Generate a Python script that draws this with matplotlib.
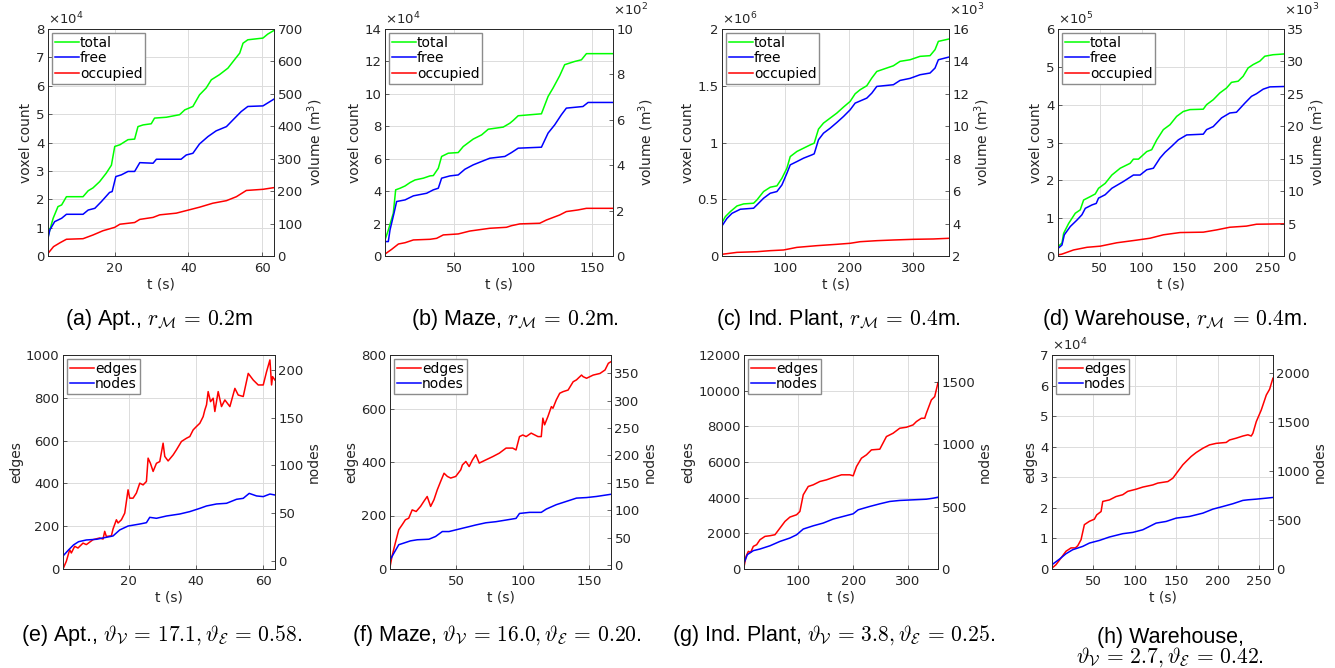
import matplotlib.pyplot as plt
import numpy as np
from matplotlib.ticker import FuncFormatter

plt.rcParams['font.family'] = 'DejaVu Sans'

# ---------------- data ----------------
# (a) Apt. voxel count, x1e4
ta_tot = [1.9, 2.4, 3.3, 4.6, 5.6, 6.9, 11.4, 12.8, 14.1, 15.9, 17.7, 19.1, 20, 21.4, 23.6, 25.4, 26.3, 27.7,
          29.9, 30.8, 34, 37.6, 39, 41.2, 43, 44.8, 46.2, 48.4, 50.7, 52.5, 53.9, 54.8, 56.1, 60.2, 61.5, 63.2]
a_total = [0.68, 0.92, 1.33, 1.74, 1.8, 2.09, 2.09, 2.3, 2.4, 2.62, 2.92, 3.2, 3.86, 3.92, 4.1, 4.12, 4.56, 4.62,
           4.66, 4.86, 4.89, 4.98, 5.15, 5.27, 5.68, 5.92, 6.21, 6.39, 6.62, 6.92, 7.15, 7.5, 7.62, 7.68, 7.82, 7.95]
ta_free = [1.9, 2.4, 3.7, 5.6, 6.9, 11.4, 12.8, 14.6, 16.4, 18.6, 19.3, 20.3, 21.8, 23.6, 25.4, 26.8, 30.4, 31.3,
           38, 39.4, 41.2, 43, 45.3, 47.5, 50.3, 52.1, 54.3, 56.1, 60.2, 63.2]
a_free = [0.62, 0.92, 1.21, 1.33, 1.47, 1.47, 1.62, 1.68, 1.92, 2.24, 2.27, 2.8, 2.86, 2.98, 2.98, 3.29, 3.27, 3.41,
          3.41, 3.56, 3.62, 3.95, 4.21, 4.41, 4.56, 4.8, 5.09, 5.27, 5.29, 5.53]
ta_occ = [1.9, 3.4, 5.2, 6.9, 11.4, 14.1, 16.8, 20, 21.4, 25.4, 26.8, 30.4, 32.2, 36.7, 39.4, 43, 46.6, 50.3,
          53, 55.7, 60.2, 63.2]
a_occ = [0.09, 0.33, 0.47, 0.59, 0.61, 0.74, 0.89, 1.01, 1.12, 1.18, 1.29, 1.36, 1.45, 1.51, 1.6, 1.72, 1.86, 1.95,
         2.09, 2.31, 2.35, 2.41]

# (b) Maze voxel count, x1e4
tb_tot = [0.2, 2.6, 6.2, 7.9, 11.1, 14.7, 18.3, 21.9, 27.9, 32.7, 35.1, 38.7, 41.1, 45.9, 53.1, 56.7, 63.9, 70,
          74.8, 85.6, 90.4, 92.8, 96.4, 104.8, 113.2, 118, 121.6, 126.4, 130, 137.3, 142.1, 145.7, 164.9]
b_total = [0.99, 1.6, 2.64, 4.08, 4.18, 4.32, 4.53, 4.69, 4.8, 4.94, 4.96, 5.41, 6.14, 6.34, 6.38, 6.75, 7.21, 7.47,
           7.82, 7.95, 8.19, 8.36, 8.65, 8.71, 8.77, 9.84, 10.36, 11.12, 11.8, 12.0, 12.1, 12.48, 12.48]
tb_free = [0.2, 2.6, 3.8, 6.7, 8.6, 14.7, 20.7, 30.3, 35.1, 38.7, 41.1, 47.1, 53.1, 57.9, 63.9, 70, 75.9, 86.8,
           91.6, 96.4, 113.2, 118, 122.8, 127.6, 131.2, 138.4, 143.2, 146.9, 164.9]
b_free = [0.89, 0.89, 1.6, 2.64, 3.36, 3.46, 3.71, 3.87, 4.08, 4.18, 4.8, 4.94, 5.0, 5.35, 5.62, 5.83, 6.03, 6.14,
          6.38, 6.65, 6.71, 7.58, 8.09, 8.71, 9.12, 9.18, 9.22, 9.47, 9.47]
tb_occ = [0.2, 5.0, 9.9, 14.7, 20.7, 32.7, 37.5, 42.3, 53.1, 61.5, 75.9, 87.9, 91.6, 97.6, 112, 116.8, 126.4,
          131.2, 139.6, 145.7, 164.9]
b_occ = [0.12, 0.41, 0.74, 0.82, 0.99, 1.03, 1.09, 1.3, 1.36, 1.54, 1.71, 1.77, 1.87, 1.98, 2.02, 2.22, 2.53,
         2.74, 2.84, 2.94, 2.94]

# (c) Ind. Plant voxel count, x1e6
tc_tot = [1.3, 6.5, 14.3, 24.7, 35.1, 50.6, 55.8, 66.2, 76.6, 87, 94.8, 102.6, 107.8, 118.2, 128.6, 139, 145.2,
          151.9, 159.7, 170.1, 180.5, 190.9, 201.3, 209.1, 216.9, 227.3, 235.1, 242.9, 258.4, 268.8, 279.2, 294.8,
          310.4, 326, 333.8, 339, 355.6]
c_total = [0.294, 0.347, 0.391, 0.441, 0.459, 0.465, 0.494, 0.568, 0.606, 0.618, 0.685, 0.774, 0.876, 0.921, 0.95,
           0.979, 0.994, 1.118, 1.171, 1.215, 1.259, 1.312, 1.362, 1.429, 1.465, 1.5, 1.568, 1.626, 1.656, 1.676,
           1.715, 1.729, 1.759, 1.765, 1.818, 1.891, 1.912]
tc_free = [1.3, 9.1, 16.9, 29.9, 50.6, 55.8, 66.2, 76.6, 87, 94.8, 102.6, 107.8, 118.2, 128.6, 141.6, 145.2, 151.9,
           159.7, 170.1, 180.5, 190.9, 201.3, 209.1, 227.3, 235.1, 242.9, 268.8, 279.2, 294.8, 310.4, 326, 333.8,
           339, 355.6]
c_free = [0.265, 0.332, 0.376, 0.412, 0.421, 0.45, 0.509, 0.553, 0.568, 0.626, 0.729, 0.803, 0.832, 0.862, 0.891,
          0.9, 1.024, 1.082, 1.126, 1.176, 1.229, 1.288, 1.347, 1.391, 1.435, 1.494, 1.509, 1.547, 1.565, 1.597,
          1.612, 1.656, 1.729, 1.753]
tc_occ = [1.3, 24.7, 55.8, 76.6, 97.4, 118.2, 149.3, 180.5, 201.3, 216.9, 242.9, 268.8, 300, 331.2, 355.6]
c_occ = [0.015, 0.032, 0.038, 0.047, 0.053, 0.076, 0.091, 0.103, 0.112, 0.126, 0.135, 0.141, 0.147, 0.15, 0.156]

# (d) Warehouse voxel count, x1e5
td_tot = [0.7, 5.4, 7.4, 13.3, 21.2, 27.1, 31.1, 39, 44.9, 48.8, 56.7, 64.6, 74.5, 86.3, 90.2, 96.2, 106, 111.9,
          117.9, 125.7, 133.6, 141.5, 149.4, 157.3, 173.1, 177, 184.9, 192.8, 200.7, 206.6, 214.5, 220.4, 226.3,
          232.3, 240.2, 246.1, 255.9, 268.9]
d_total = [0.25, 0.34, 0.6, 0.86, 1.13, 1.22, 1.48, 1.57, 1.64, 1.79, 1.92, 2.14, 2.32, 2.45, 2.56, 2.56, 2.76,
           2.81, 3.07, 3.34, 3.47, 3.69, 3.82, 3.87, 3.88, 4.0, 4.13, 4.31, 4.44, 4.59, 4.62, 4.75, 4.97, 5.06, 5.15,
           5.28, 5.32, 5.34]
td_free = [0.7, 5.4, 8.2, 15.3, 23.2, 29.1, 33.1, 41, 46.1, 48.8, 56.7, 64.6, 78.4, 90.2, 98.1, 106, 113.9, 121.8,
           127.7, 135.6, 143.5, 153.4, 173.1, 177, 184.9, 194.8, 204.6, 212.5, 222.4, 230.3, 236.3, 244.2, 252.1,
           268.9]
d_free = [0.2, 0.29, 0.56, 0.78, 0.95, 1.09, 1.26, 1.35, 1.39, 1.53, 1.62, 1.79, 1.97, 2.14, 2.14, 2.28, 2.32,
          2.59, 2.74, 2.9, 3.07, 3.2, 3.22, 3.34, 3.42, 3.65, 3.78, 3.8, 4.04, 4.22, 4.29, 4.41, 4.47, 4.48]
td_occ = [0.7, 5.4, 19.2, 35.1, 50.9, 70.6, 94.2, 110, 125.7, 145.5, 173.1, 188.9, 204.6, 224.3, 236.3, 268.9]
d_occ = [0.03, 0.05, 0.16, 0.23, 0.26, 0.35, 0.42, 0.47, 0.56, 0.62, 0.63, 0.69, 0.76, 0.79, 0.84, 0.85]

# (e) Apt. graph size
te_edge = [0.45, 1.44, 2.43, 2.93, 3.92, 4.91, 6.4, 7.39, 9.38, 11.36, 12.36, 12.85, 13.35, 14.84, 15.33, 16.33,
           16.82, 17.82, 18.81, 19.8, 20.3, 21.29, 22.28, 23.28, 24.27, 25.26, 25.76, 26.45, 27.25, 28.24, 29.23,
           30.22, 30.72, 31.71, 33.2, 34.19, 35.68, 37.17, 38.16, 39.16, 40.15, 41.14, 42.13, 42.63, 43.13, 43.62,
           44.32, 45.11, 45.61, 46.6, 47.59, 48.59, 50.08, 51.57, 52.56, 54.05, 55.54, 57.03, 58.51, 60, 60.99,
           61.99, 62.48, 62.78, 63.48]
e_edges = [0, 36, 90, 75, 106, 98, 121, 114, 137, 145, 140, 176, 152, 155, 187, 230, 215, 230, 261, 370, 331, 331,
           355, 401, 393, 409, 518, 494, 456, 494, 502, 588, 526, 505, 533, 557, 596, 611, 619, 650, 666, 681, 712,
           743, 767, 829, 782, 798, 736, 829, 759, 790, 759, 844, 813, 806, 914, 883, 860, 860, 922, 977, 860, 899,
           883]
te_node = [0.45, 2.08, 3.58, 5.09, 7.39, 10.37, 13.35, 15.33, 17.32, 19.8, 23.28, 25.26, 26.25, 28.24, 31.22,
           35.19, 38.16, 41.14, 43.13, 46.11, 49.08, 52.06, 54.05, 55.83, 58.02, 60, 61.99, 63.48]
e_nodes = [5.2, 11.5, 16.8, 20.2, 22, 22.7, 24.8, 26.2, 32.5, 36.6, 38.7, 40.1, 45.7, 44.7, 47.1, 49.2, 51.7, 55.1,
           57.6, 59.7, 60.4, 64.6, 65.6, 70.8, 68.1, 67.4, 70.1, 69.1]

# (f) Maze graph size
tf_edge = [0, 1.5, 4, 6.6, 9.1, 11.6, 14.1, 16.7, 19.7, 23, 25.5, 28, 30.6, 33.1, 35.6, 38.1, 40.7, 43.2, 45.7,
           49.5, 53.3, 54.5, 57.1, 59.6, 62.1, 64.6, 67.2, 72.2, 77.3, 82.3, 87.4, 92.4, 94.9, 97.5, 100, 102.5,
           106.3, 111.4, 113.9, 115.1, 116.4, 118.9, 121.5, 122.7, 125.2, 127.8, 130.3, 134.1, 137.9, 140.4, 144.2,
           145.4, 148, 153, 158.1, 161.9, 164.4, 166.4]
f_edges = [7, 47, 97, 147, 165, 184, 190, 221, 215, 234, 253, 271, 234, 259, 296, 327, 358, 346, 340, 346, 371,
           389, 402, 383, 408, 427, 396, 408, 420, 433, 452, 452, 445, 495, 501, 495, 508, 495, 495, 564, 539, 570,
           607, 601, 632, 657, 663, 669, 700, 707, 725, 719, 713, 725, 731, 744, 769, 775]
tf_node = [0, 2.8, 6.6, 10.4, 15.4, 20.5, 29.3, 34.3, 39.4, 44.4, 54.5, 59.6, 64.6, 72.2, 79.8, 87.4, 94.9, 97.5,
           105.1, 113.9, 117.7, 125.2, 132.8, 140.4, 148, 155.5, 166.4]
f_nodes = [9, 21, 37, 40, 44, 46, 47, 52, 61, 61, 67, 70, 73, 77, 79, 82, 85, 94, 96, 96, 102, 110, 116, 122, 123,
           125, 129]

# (g) Ind. Plant graph size
tg_edge = [1.2, 4.9, 9.1, 13.3, 18.2, 24.2, 30.3, 39.4, 48.5, 57.6, 66.7, 75.8, 84.8, 97, 103, 109.1, 118.2,
           127.3, 139.4, 151.5, 163.6, 178.8, 193.9, 200, 206.1, 215.1, 224.2, 233.3, 248.5, 260.6, 272.7, 284.8,
           297, 309.1, 315.1, 324.2, 330.3, 333.3, 342.4, 348.5, 354.5]
g_edges = [112, 709, 989, 933, 1269, 1362, 1642, 1829, 1866, 1922, 2295, 2668, 2911, 3042, 3228, 4161, 4628, 4721,
           4908, 5001, 5132, 5281, 5281, 5225, 5747, 6214, 6401, 6680, 6718, 7427, 7613, 7893, 7949, 8080, 8266,
           8453, 8453, 8733, 9479, 9666, 10450]
tg_node = [1.2, 7.3, 18.2, 30.3, 48.5, 66.7, 84.8, 97, 109.1, 127.3, 145.5, 163.6, 181.8, 200, 209.1, 230.3, 248.5,
           266.7, 284.8, 309.1, 333.3, 345.5, 354.5]
g_nodes = [48, 115, 147, 160, 186, 221, 248, 274, 320, 346, 368, 400, 421, 442, 474, 501, 522, 541, 549, 554, 559,
           567, 575]

# (h) Warehouse graph size, edges x1e4
th_edge = [0, 4.8, 10.9, 16.9, 23, 28.2, 31.1, 35.1, 39.1, 45.2, 51.2, 54, 59.3, 61.3, 69.4, 77.4, 85.5, 91.5,
           101.6, 109.7, 121.8, 127.8, 139.9, 146, 152, 158.1, 162.1, 168.1, 174.2, 182.3, 190.3, 198.4, 210.5,
           214.5, 222.6, 230.6, 236.7, 240.7, 242.7, 246.8, 252.8, 258.9, 262.9, 266.9]
h_edges = [0.03, 0.14, 0.36, 0.58, 0.69, 0.69, 0.76, 0.96, 1.45, 1.56, 1.63, 1.77, 1.88, 2.21, 2.26, 2.37, 2.43,
           2.54, 2.61, 2.68, 2.75, 2.81, 2.86, 2.97, 3.19, 3.41, 3.52, 3.68, 3.81, 3.95, 4.06, 4.11, 4.14, 4.22, 4.28,
           4.35, 4.39, 4.35, 4.44, 4.82, 5.2, 5.69, 5.88, 6.24]
th_node = [0, 9.2, 16.9, 25, 37.1, 45.2, 57.3, 69.4, 85.5, 97.6, 109.7, 125.8, 137.9, 150, 166.1, 182.3, 194.4,
           206.5, 218.5, 230.6, 236.7, 246.8, 258.9, 266.9]
h_nodes = [44, 102, 156, 197, 231, 265, 292, 327, 361, 374, 401, 469, 486, 520, 537, 571, 612, 639, 667, 701, 707,
           714, 724, 731]

captions_top = [r'(a) Apt., $r_{\mathcal{M}}\,=\,0.2$m', r'(b) Maze, $r_{\mathcal{M}}\,=\,0.2$m.',
                r'(c) Ind. Plant, $r_{\mathcal{M}}\,=\,0.4$m.', r'(d) Warehouse, $r_{\mathcal{M}}\,=\,0.4$m.']
captions_bot = [r'(e) Apt., $\vartheta_{\mathcal{V}}\,=\,17.1, \vartheta_{\mathcal{E}}\,=\,0.58$.',
                r'(f) Maze, $\vartheta_{\mathcal{V}}\,=\,16.0, \vartheta_{\mathcal{E}}\,=\,0.20$.',
                r'(g) Ind. Plant, $\vartheta_{\mathcal{V}}\,=\,3.8, \vartheta_{\mathcal{E}}\,=\,0.25$.']
caption_h = ['(h) Warehouse,', r'$\vartheta_{\mathcal{V}}\,=\,2.7, \vartheta_{\mathcal{E}}\,=\,0.42$.']

# ---------------- drawing ----------------
W, H = 1335, 668
DARK = '#262626'
fig = plt.figure(figsize=(W / 100, H / 100), dpi=100)


def rect(x0, x1, y0, y1):
    return [x0 / W, 1 - y1 / H, (x1 - x0) / W, (y1 - y0) / H]


def style(ax):
    ax.tick_params(direction='in', length=3, width=0.5, labelsize=9.5, colors=DARK, pad=2.5)
    ax.tick_params(axis='x', pad=4)
    for s in ax.spines.values():
        s.set_color(DARK)
        s.set_linewidth(0.6)


def sci(ax, e, right=False):
    ax.yaxis.set_major_formatter(FuncFormatter(lambda v, p: '%g' % round(v / 10 ** e, 6)))
    ax.annotate(r'$\times10^{%d}$' % e, xy=(1.0 if right else 0.0, 1.0), xycoords='axes fraction',
                xytext=(0, 8 if right else 1.5), textcoords='offset points',
                ha='left', va='bottom', fontsize=9.5, color=DARK)


def panel(r, xlim, xticks, ylim, yticks, ylim2, yticks2, lab1, lab2):
    ax = fig.add_axes(r)
    ax2 = ax.twinx()
    for a in (ax, ax2):
        style(a)
    ax.set_xlim(*xlim)
    ax.set_xticks(xticks)
    ax.set_ylim(*ylim)
    ax.set_yticks(yticks)
    ax2.set_ylim(*ylim2)
    ax2.set_yticks(yticks2)
    ax.grid(True, color='#dcdcdc', linewidth=0.7)
    ax.set_axisbelow(True)
    ax.set_xlabel('t (s)', fontsize=10, color=DARK, labelpad=2)
    ax.set_ylabel(lab1, fontsize=10, color=DARK, labelpad=2)
    ax2.set_ylabel(lab2, fontsize=10, color=DARK, labelpad=2)
    return ax, ax2


leg_kw = dict(loc='upper left', fontsize=10, handlelength=1.7, handletextpad=0.1, labelspacing=0.1,
              borderpad=0.2, borderaxespad=0.3, fancybox=False, framealpha=1, edgecolor='#8c8c8c')
LW = 1.1

# row 1: voxel counts
top = [
    (rect(48, 274, 29, 256), (1.9, 63.2), [20, 40, 60], (0, 8e4), np.arange(0, 9e4, 1e4), 4,
     (0, 700), np.arange(0, 800, 100), None,
     (ta_tot, a_total), (ta_free, a_free), (ta_occ, a_occ), 1e4),
    (rect(385, 613, 29, 256), (0.2, 164.9), [50, 100, 150], (0, 14e4), np.arange(0, 15e4, 2e4), 4,
     (0, 1000), np.arange(0, 1100, 200), 2,
     (tb_tot, b_total), (tb_free, b_free), (tb_occ, b_occ), 1e4),
    (rect(722, 949, 29, 256), (1.3, 355.6), [100, 200, 300], (0, 2e6), np.arange(0, 2.1e6, 5e5), 6,
     (2000, 16000), np.arange(2000, 17000, 2000), 3,
     (tc_tot, c_total), (tc_free, c_free), (tc_occ, c_occ), 1e6),
    (rect(1058, 1284, 29, 256), (0.7, 268.9), [50, 100, 150, 200, 250], (0, 6e5), np.arange(0, 7e5, 1e5), 5,
     (0, 35000), np.arange(0, 36000, 5000), 3,
     (td_tot, d_total), (td_free, d_free), (td_occ, d_occ), 1e5),
]
for (r, xl, xt, yl, yt, e1, yl2, yt2, e2, tot, fre, occ, scale) in top:
    ax, ax2 = panel(r, xl, xt, yl, yt, yl2, yt2, 'voxel count', 'volume (m$^3$)')
    sci(ax, e1)
    if e2 is not None:
        sci(ax2, e2, right=True)
    ax.plot(tot[0], np.array(tot[1]) * scale, color='#00ff00', lw=LW, label='total')
    ax.plot(fre[0], np.array(fre[1]) * scale, color='#0000ff', lw=LW, label='free')
    ax.plot(occ[0], np.array(occ[1]) * scale, color='#ff0000', lw=LW, label='occupied')
    ax.legend(**leg_kw)

# row 2: graph sizes
bot = [
    (rect(63, 275, 355, 569), (0.45, 63.5), [20, 40, 60], (0, 1000), np.arange(0, 1100, 200), None,
     (-8.4, 215.7), np.arange(0, 250, 50), (te_edge, e_edges), (te_node, e_nodes), 1),
    (rect(390, 611, 355, 569), (0, 166.4), [50, 100, 150], (0, 800), np.arange(0, 900, 200), None,
     (-7.3, 383), np.arange(0, 400, 50), (tf_edge, f_edges), (tf_node, f_nodes), 1),
    (rect(744, 938, 355, 569), (1.2, 354.5), [100, 200, 300], (0, 12000), np.arange(0, 13000, 2000), None,
     (0, 1714), np.arange(0, 2000, 500), (tg_edge, g_edges), (tg_node, g_nodes), 1),
    (rect(1052, 1273, 355, 569), (0, 267), [50, 100, 150, 200, 250], (0, 7e4), np.arange(0, 8e4, 1e4), 4,
     (0, 2187), np.arange(0, 2500, 500), (th_edge, h_edges), (th_node, h_nodes), 1e4),
]
for (r, xl, xt, yl, yt, e1, yl2, yt2, edg, nod, scale) in bot:
    ax, ax2 = panel(r, xl, xt, yl, yt, yl2, yt2, 'edges', 'nodes')
    if e1 is not None:
        sci(ax, e1)
    l1, = ax.plot(edg[0], np.array(edg[1]) * scale, color='#ff0000', lw=LW, label='edges')
    l2, = ax2.plot(nod[0], nod[1], color='#0000ff', lw=LW, label='nodes')
    ax2.legend(handles=[l1, l2], **leg_kw)

# captions
cap_kw = dict(ha='center', va='center', fontsize=15.5, family='Liberation Sans', math_fontfamily='cm')
for x, s in zip([159, 515, 838, 1175], captions_top):
    fig.text(x / W, 1 - 320 / H, s, **cap_kw)
for x, s in zip([162, 497, 834], captions_bot):
    fig.text(x / W, 1 - 636 / H, s, **cap_kw)
fig.text(1170 / W, 1 - 637 / H, caption_h[0], **cap_kw)
fig.text(1170 / W, 1 - 657 / H, caption_h[1], **cap_kw)

fig.savefig('out.png', dpi=100)
